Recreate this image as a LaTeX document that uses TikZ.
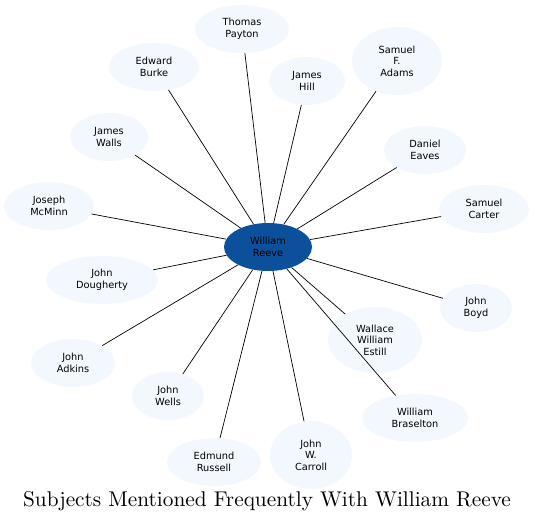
\documentclass[tikz,border=0pt]{standalone}
\usepackage{fontspec}
\newfontfamily\labelfont{DejaVu Sans}
\usetikzlibrary{shapes.geometric}
\definecolor{paleblue}{RGB}{243,248,255}
\definecolor{reeveblue}{RGB}{12,80,155}
\begin{document}
\begin{tikzpicture}[
  x=1pt,y=-1pt,
  person/.style={ellipse,fill=paleblue,inner sep=0pt,align=center,font=\labelfont\fontsize{9.8}{11.5}\selectfont},
  centre/.style={person,fill=reeveblue},
  link/.style={line width=0.7pt}
]
  \useasboundingbox (0,0) rectangle (535,524);
  \node[centre,minimum width=88,minimum height=48] (WR) at (268,247) {William\\Reeve};

  \node[person,minimum width=94,minimum height=48] (TP) at (242,29) {Thomas\\Payton};
  \node[person,minimum width=90,minimum height=48] (EB) at (154,67) {Edward\\Burke};
  \node[person,minimum width=76,minimum height=48] (JH) at (307,81) {James\\Hill};
  \node[person,minimum width=90,minimum height=68] (SA) at (397,61) {Samuel\\F.\\Adams};
  \node[person,minimum width=78,minimum height=48] (JW) at (109,137) {James\\Walls};
  \node[person,minimum width=82,minimum height=48] (DE) at (425,150) {Daniel\\Eaves};
  \node[person,minimum width=90,minimum height=48] (JM) at (49,206) {Joseph\\McMinn};
  \node[person,minimum width=90,minimum height=48] (SC) at (484,209) {Samuel\\Carter};
  \node[person,minimum width=112,minimum height=48] (JD) at (102,280) {John\\Dougherty};
  \node[person,minimum width=72,minimum height=48] (JB) at (476,308) {John\\Boyd};
  \node[person,minimum width=94,minimum height=66] (WE) at (375,340) {Wallace\\William\\Estill};
  \node[person,minimum width=84,minimum height=48] (JA) at (73,363) {John\\Adkins};
  \node[person,minimum width=72,minimum height=48] (JWe) at (168,396) {John\\Wells};
  \node[person,minimum width=106,minimum height=48] (WB) at (415,418) {William\\Braselton};
  \node[person,minimum width=94,minimum height=48] (ER) at (214,462) {Edmund\\Russell};
  \node[person,minimum width=82,minimum height=68] (JC) at (311,455) {John\\W.\\Carroll};

  \foreach \n in {TP,EB,JH,SA,JW,DE,JM,SC,JD,JB,WE,JA,JWe,WB,ER,JC}
    \draw[link] (WR) -- (\n);

  \node[font=\fontsize{10}{12}\selectfont] (title) at (267,501) {\scalebox{2.13}{Subjects Mentioned Frequently With William Reeve}};
\end{tikzpicture}
\end{document}
